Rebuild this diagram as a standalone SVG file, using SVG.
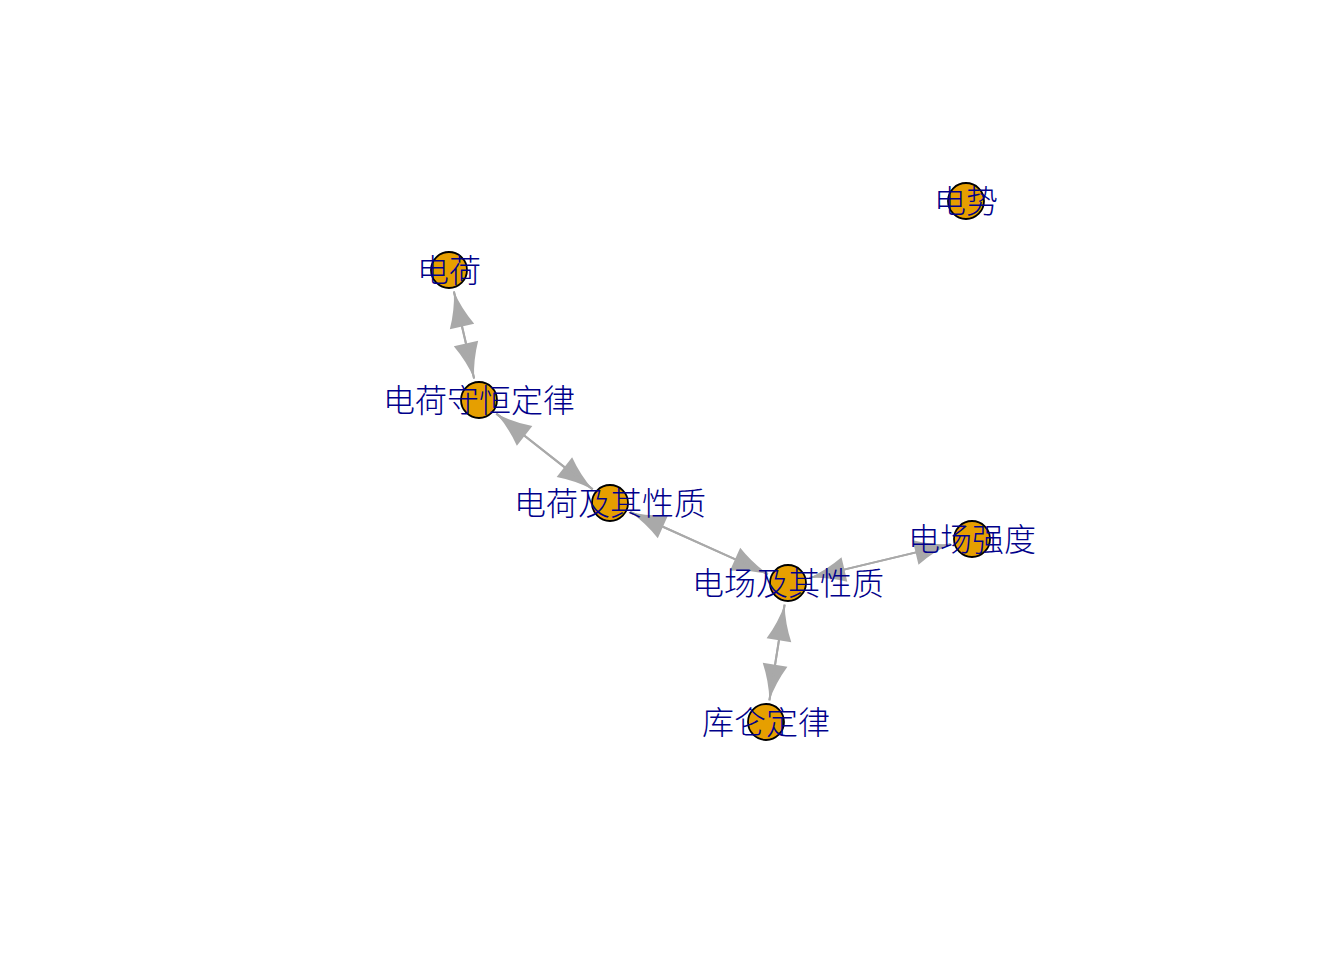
<svg xmlns="http://www.w3.org/2000/svg" width="1344" height="960" viewBox="0 0 1344 960">
<style>
.edge{stroke:#A9A9A9;stroke-width:2;fill:none;marker-end:url(#arr)}
.node circle{fill:#E69F00;stroke:#000;stroke-width:1.8}
.node text{font-family:"Noto Sans CJK SC","Noto Sans CJK JP",sans-serif;font-size:32px;font-weight:300;fill:#00008B;text-anchor:middle;dominant-baseline:central}
</style>
<defs>
<marker id="arr" markerUnits="userSpaceOnUse" markerWidth="37" markerHeight="25" refX="36" refY="12.5" orient="auto" overflow="visible">
<path d="M36,12.5 Q17.5,9 0,0 L0,25 Q17.5,16 36,12.5 Z" fill="#A9A9A9"/>
</marker>
</defs>
<rect width="1344" height="960" fill="#fff"/>
<g id="edges">
<path class="edge" d="M453.9,291.4 L474.1,378.6"/>
<path class="edge" d="M474.1,378.6 L453.9,291.4"/>
<path class="edge" d="M496.3,413.6 L592.7,489.4"/>
<path class="edge" d="M592.7,489.4 L496.3,413.6"/>
<path class="edge" d="M630.1,512 L767.9,574"/>
<path class="edge" d="M767.9,574 L630.1,512"/>
<path class="edge" d="M809.4,577.9 L950.6,544.1"/>
<path class="edge" d="M950.6,544.1 L809.4,577.9"/>
<path class="edge" d="M784.6,604.7 L769.4,700.3"/>
<path class="edge" d="M769.4,700.3 L784.6,604.7"/>
</g>
<g id="n1" class="node"><circle cx="966" cy="201" r="18"/><text x="966" y="199">电势</text></g>
<g id="n2" class="node"><circle cx="449" cy="270" r="18"/><text x="449" y="268">电荷</text></g>
<g id="n3" class="node"><circle cx="479" cy="400" r="18"/><text x="479" y="398">电荷守恒定律</text></g>
<g id="n4" class="node"><circle cx="610" cy="503" r="18"/><text x="610" y="501">电荷及其性质</text></g>
<g id="n5" class="node"><circle cx="788" cy="583" r="18"/><text x="788" y="581">电场及其性质</text></g>
<g id="n6" class="node"><circle cx="972" cy="539" r="18"/><text x="972" y="537">电场强度</text></g>
<g id="n7" class="node"><circle cx="766" cy="722" r="18"/><text x="766" y="720">库仑定律</text></g>
</svg>
